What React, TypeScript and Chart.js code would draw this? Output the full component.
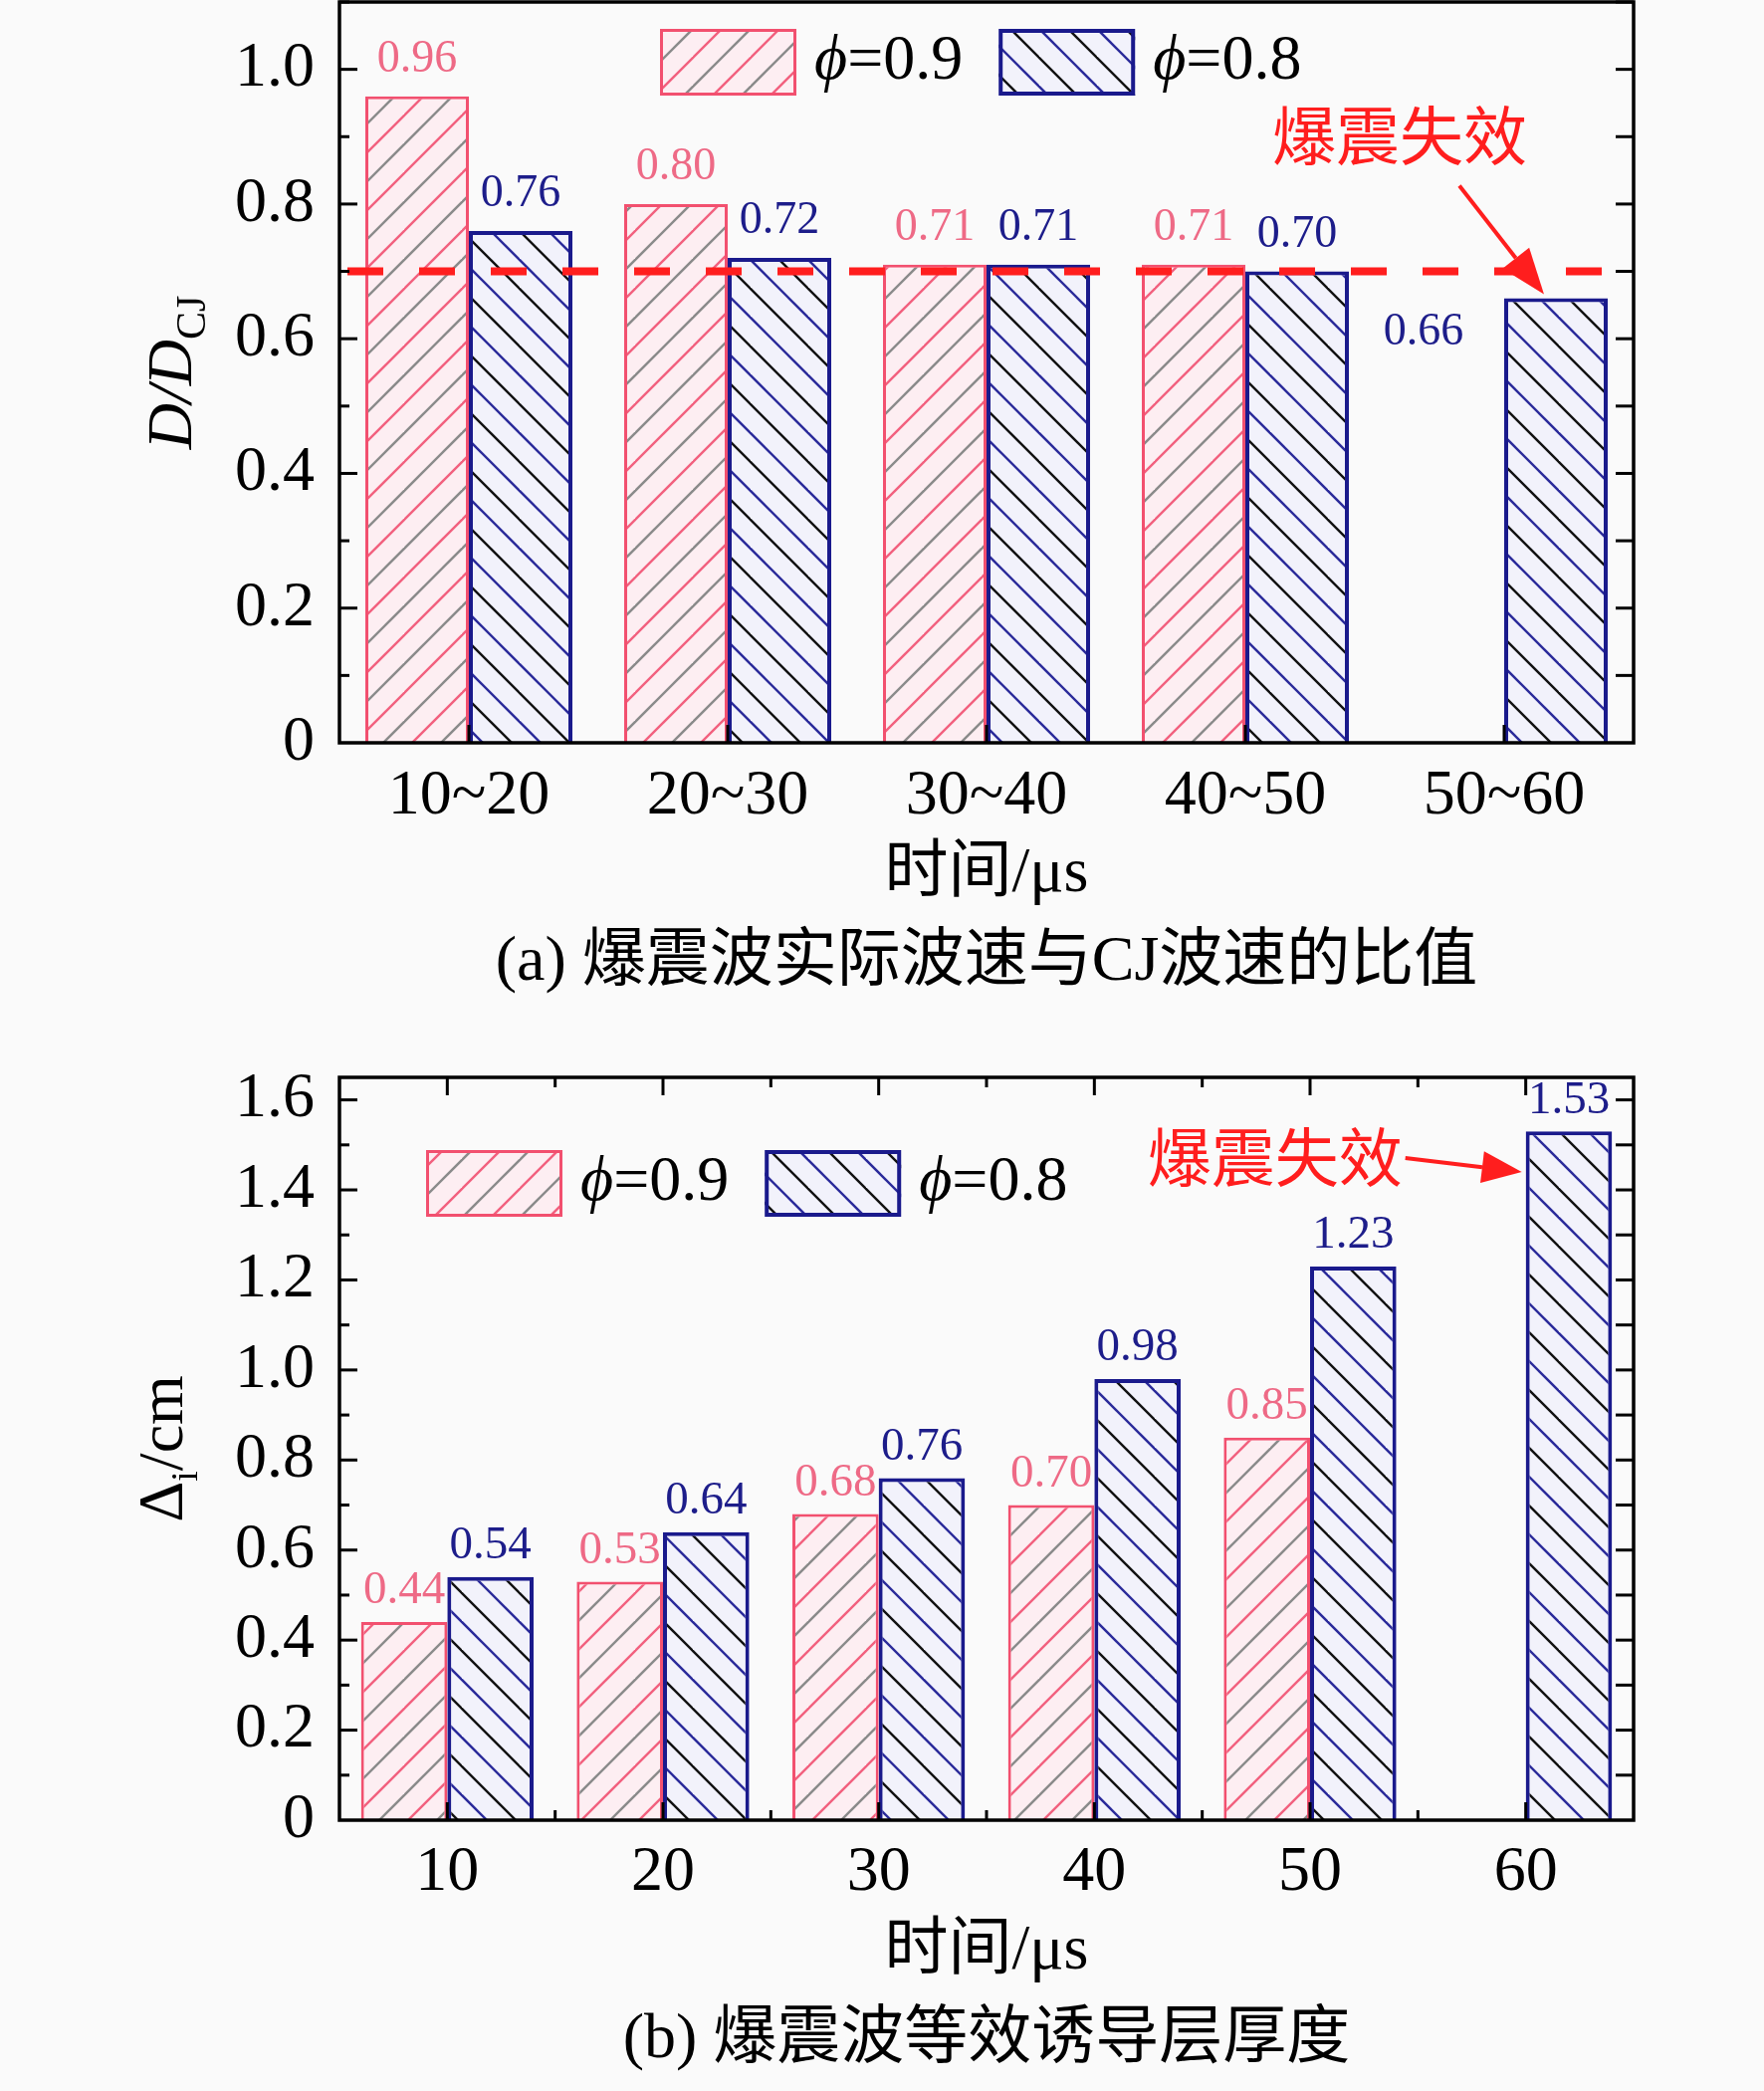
import React, { useEffect, useRef } from 'react';
import Chart from 'chart.js/auto';

// (a) D/DCJ per time window
const ratioCategories = ['10~20', '20~30', '30~40', '40~50', '50~60'];
const ratioPhi09 = [0.96, 0.8, 0.71, 0.71, null];
const ratioPhi08 = [0.76, 0.72, 0.71, 0.7, 0.66];
const ratioFailLine = 0.7;

// (b) equivalent induced layer thickness
const thickCategories = ['10', '20', '30', '40', '50', '60'];
const thickPhi09 = [0.44, 0.53, 0.68, 0.7, 0.85, null];
const thickPhi08 = [0.54, 0.64, 0.76, 0.98, 1.23, 1.53];

const seriesNames = ['ϕ=0.9', 'ϕ=0.8'];

const SERIF = "'Liberation Serif', 'Times New Roman', serif";
const MIXED = "'Liberation Serif', 'Noto Sans CJK SC', serif";
const CJK = "'Noto Sans CJK SC', sans-serif";
const RED_EDGE = '#f2506f';
const BLUE_EDGE = '#1a1a8c';
const NOTE_RED = '#ff1e1e';

function hatch(dir: 1 | -1, bg: string, c1: string, c2: string) {
  const s = 29;
  const t = s * 2;
  const cv = document.createElement('canvas');
  cv.width = t;
  cv.height = t;
  const g = cv.getContext('2d')!;
  g.fillStyle = bg;
  g.fillRect(0, 0, t, t);
  g.lineWidth = 2.4;
  for (let k = -2; k <= 6; k++) {
    const c = k * s;
    g.strokeStyle = Math.abs(k) % 2 === 0 ? c1 : c2;
    g.beginPath();
    if (dir === 1) {
      g.moveTo(c + s, -s);
      g.lineTo(c - t - s, t + s);
    } else {
      g.moveTo(-s, c - t - s);
      g.lineTo(t + s, c + s);
    }
    g.stroke();
  }
  return g.createPattern(cv, 'repeat')!;
}

interface Panel {
  labels: string[];
  phi09: (number | null)[];
  phi08: number[];
  max: number;
  height: number;
  padTop: number;
  padBottom: number;
  axisHeight: number;
  tickPad: number;
  xTitle: string[];
  yTitle: { t: string; font: string; dy: number }[];
  yTitleX: number;
  legendX: number;
  legendY: number;
  labelGap: number;
  labelSize: number;
  minorX: boolean;
  limit?: number;
  sideLabel: boolean;
  note: 'a' | 'b';
}

function line(ctx: CanvasRenderingContext2D, x0: number, y0: number, x1: number, y1: number) {
  ctx.beginPath();
  ctx.moveTo(x0, y0);
  ctx.lineTo(x1, y1);
  ctx.stroke();
}

function arrow(ctx: CanvasRenderingContext2D, x0: number, y0: number, x1: number, y1: number, L: number, W: number) {
  const ang = Math.atan2(y1 - y0, x1 - x0);
  const cs = Math.cos(ang);
  const sn = Math.sin(ang);
  const bx = x1 - L * cs;
  const by = y1 - L * sn;
  ctx.strokeStyle = NOTE_RED;
  ctx.fillStyle = NOTE_RED;
  ctx.lineWidth = 4;
  line(ctx, x0, y0, bx, by);
  ctx.beginPath();
  ctx.moveTo(x1, y1);
  ctx.lineTo(bx - W * sn, by + W * cs);
  ctx.lineTo(bx + W * sn, by - W * cs);
  ctx.closePath();
  ctx.fill();
}

function decor(p: Panel) {
  return {
    id: 'decor',
    afterDatasetsDraw(chart: any) {
      const { ctx, chartArea: a, scales } = chart;
      const x = scales.x;
      const y = scales.y;
      const n = chart.data.labels.length;
      ctx.save();

      // failure threshold
      if (p.limit != null) {
        const py = y.getPixelForValue(p.limit);
        ctx.strokeStyle = NOTE_RED;
        ctx.lineWidth = 8;
        ctx.setLineDash([36, 36]);
        line(ctx, a.left + 8, py, a.right, py);
        ctx.setLineDash([]);
      }

      // frame and inward ticks
      ctx.strokeStyle = '#000';
      ctx.lineWidth = 3.5;
      ctx.strokeRect(a.left, a.top, a.right - a.left, a.bottom - a.top);
      ctx.lineWidth = 3;
      for (let i = 1; i * 0.1 <= y.max + 1e-9; i++) {
        const py = y.getPixelForValue(i * 0.1);
        line(ctx, a.left, py, a.left + (i % 2 === 0 ? 18 : 10), py);
        line(ctx, a.right, py, a.right - 18, py);
      }
      for (let i = 0; i < n; i++) {
        const px = x.getPixelForValue(i);
        line(ctx, px, a.bottom, px, a.bottom - 18);
        if (p.minorX) line(ctx, px, a.top, px, a.top + 18);
      }
      if (p.minorX) {
        for (let i = 1; i < n; i++) {
          const px = (x.getPixelForValue(i - 1) + x.getPixelForValue(i)) / 2;
          line(ctx, px, a.bottom, px, a.bottom - 10);
          line(ctx, px, a.top, px, a.top + 10);
        }
      }

      // value labels
      const labelColors = ['#ee6a86', '#1d1d8a'];
      ctx.font = `${p.labelSize}px ${SERIF}`;
      ctx.textAlign = 'center';
      ctx.textBaseline = 'middle';
      chart.data.datasets.forEach((ds: any, di: number) => {
        chart.getDatasetMeta(di).data.forEach((el: any, i: number) => {
          const v = ds.data[i];
          if (v == null) return;
          let lx = el.x;
          let ly = el.y - p.labelGap;
          if (p.sideLabel && di === 1 && chart.data.datasets[0].data[i] == null) {
            lx = el.x - 133;
            ly = el.y + 34;
          }
          ctx.fillStyle = labelColors[di];
          ctx.fillText(v.toFixed(2), lx, ly);
        });
      });

      // legend
      let lx = a.left + p.legendX;
      const ly = a.top + p.legendY;
      const bw = 137;
      const bh = 67;
      chart.data.datasets.forEach((ds: any) => {
        ctx.fillStyle = ds.backgroundColor;
        ctx.fillRect(lx, ly, bw, bh);
        ctx.strokeStyle = ds.borderColor;
        ctx.lineWidth = ds.borderWidth;
        ctx.strokeRect(lx + ds.borderWidth / 2, ly + ds.borderWidth / 2, bw - ds.borderWidth, bh - ds.borderWidth);
        ctx.fillStyle = '#000';
        ctx.textAlign = 'left';
        ctx.textBaseline = 'middle';
        let tx = lx + bw + 18;
        const sym = ds.label.slice(0, 1);
        const rest = ds.label.slice(1);
        ctx.font = `italic 64px ${SERIF}`;
        ctx.fillText(sym, tx, ly + bh / 2);
        tx += ctx.measureText(sym).width;
        ctx.font = `64px ${SERIF}`;
        ctx.fillText(rest, tx, ly + bh / 2);
        tx += ctx.measureText(rest).width;
        lx = tx + 36;
      });

      // y title with subscript
      ctx.save();
      ctx.translate(p.yTitleX, (a.top + a.bottom) / 2);
      ctx.rotate(-Math.PI / 2);
      ctx.textBaseline = 'alphabetic';
      ctx.textAlign = 'left';
      ctx.fillStyle = '#000';
      let total = 0;
      p.yTitle.forEach((part) => {
        ctx.font = part.font;
        total += ctx.measureText(part.t).width;
      });
      let cx = -total / 2;
      p.yTitle.forEach((part) => {
        ctx.font = part.font;
        ctx.fillText(part.t, cx, part.dy);
        cx += ctx.measureText(part.t).width;
      });
      ctx.restore();

      // failure note
      const bar = chart.getDatasetMeta(1).data[n - 1];
      ctx.font = `64px ${CJK}`;
      ctx.fillStyle = NOTE_RED;
      ctx.textAlign = 'center';
      ctx.textBaseline = 'middle';
      if (p.note === 'a') {
        const tipX = bar.x - 12;
        const tipY = bar.y - 4;
        ctx.fillText('爆震失效', tipX - 145, tipY - 160);
        arrow(ctx, tipX - 85, tipY - 109, tipX, tipY, 46, 17);
      } else {
        const tipX = bar.x - bar.width / 2 - 4;
        const tipY = y.getPixelForValue(1.44);
        ctx.fillText('爆震失效', tipX - 248, tipY - 15);
        arrow(ctx, tipX - 117, tipY - 14, tipX, tipY, 40, 16);
      }
      ctx.restore();
    },
  };
}

function BarPanel({ p }: { p: Panel }) {
  const ref = useRef<HTMLCanvasElement>(null);

  useEffect(() => {
    if (!ref.current) return;
    const redHatch = hatch(1, '#fdeef2', '#f2607e', '#8a8a8a');
    const blueHatch = hatch(-1, '#f2f2fb', '#111111', '#2a2a9a');
    const chart = new Chart(ref.current, {
      type: 'bar',
      data: {
        labels: p.labels,
        datasets: [
          {
            label: seriesNames[0],
            data: p.phi09,
            backgroundColor: redHatch,
            borderColor: RED_EDGE,
            borderWidth: 3,
            categoryPercentage: 0.8,
            barPercentage: 1,
          },
          {
            label: seriesNames[1],
            data: p.phi08,
            backgroundColor: blueHatch,
            borderColor: BLUE_EDGE,
            borderWidth: 4,
            categoryPercentage: 0.8,
            barPercentage: 1,
          },
        ],
      },
      options: {
        animation: false,
        responsive: true,
        maintainAspectRatio: false,
        layout: { padding: { left: 0, right: 131, top: p.padTop, bottom: p.padBottom } },
        plugins: {
          legend: { display: false },
          tooltip: { enabled: false },
          title: { display: false },
        },
        scales: {
          x: {
            grid: { display: false, drawTicks: false },
            border: { display: false },
            ticks: {
              color: '#000',
              padding: p.tickPad,
              maxRotation: 0,
              autoSkip: false,
              font: { family: SERIF, size: 64, lineHeight: 1 },
            },
            title: {
              display: true,
              text: p.xTitle,
              color: '#000',
              font: { family: MIXED, size: 64, lineHeight: 1.39 },
              padding: { top: 0, bottom: 0 },
            },
            afterFit: (s: any) => {
              s.height = p.axisHeight;
              s.paddingLeft = 0;
              s.paddingRight = 0;
            },
          },
          y: {
            min: 0,
            max: p.max,
            grid: { display: false, drawTicks: false },
            border: { display: false },
            ticks: {
              stepSize: 0.2,
              includeBounds: false,
              padding: 25,
              color: '#000',
              font: { family: SERIF, size: 64, lineHeight: 1 },
              callback: (v: any) => (Number(v) === 0 ? '0' : Number(v).toFixed(1)),
            },
            afterFit: (s: any) => {
              s.width = 341;
              s.paddingTop = 0;
              s.paddingBottom = 0;
            },
          },
        },
      },
      plugins: [decor(p)],
    } as any);
    return () => chart.destroy();
  }, [p]);

  return (
    <div style={{ position: 'relative', width: 1772, height: p.height }}>
      <canvas ref={ref} />
    </div>
  );
}

const panelA: Panel = {
  labels: ratioCategories,
  phi09: ratioPhi09,
  phi08: ratioPhi08,
  max: 1.1,
  height: 1020,
  padTop: 2,
  padBottom: 8.5,
  axisHeight: 265.5,
  tickPad: 22,
  xTitle: ['时间/μs', '(a) 爆震波实际波速与CJ波速的比值'],
  yTitle: [
    { t: 'D/D', font: `italic 64px ${SERIF}`, dy: 0 },
    { t: 'CJ', font: `42px ${SERIF}`, dy: 14 },
  ],
  yTitleX: 192,
  legendX: 322,
  legendY: 27,
  labelGap: 37,
  labelSize: 46,
  minorX: false,
  limit: ratioFailLine,
  sideLabel: true,
  note: 'a',
};

const panelB: Panel = {
  labels: thickCategories,
  phi09: thickPhi09,
  phi08: thickPhi08,
  max: 1.65,
  height: 1080,
  padTop: 62,
  padBottom: 6.5,
  axisHeight: 265.5,
  tickPad: 21,
  xTitle: ['时间/μs', '(b) 爆震波等效诱导层厚度'],
  yTitle: [
    { t: 'Δ', font: `64px ${SERIF}`, dy: 0 },
    { t: 'i', font: `38px ${SERIF}`, dy: 15 },
    { t: '/cm', font: `64px ${SERIF}`, dy: 0 },
  ],
  yTitleX: 183,
  legendX: 87,
  legendY: 73,
  labelGap: 31,
  labelSize: 47,
  minorX: true,
  sideLabel: false,
  note: 'b',
};

export default function App() {
  return (
    <div style={{ position: 'absolute', left: 0, top: 0, width: 1772, height: 2100, background: '#fafafa' }}>
      <BarPanel p={panelA} />
      <BarPanel p={panelB} />
    </div>
  );
}
